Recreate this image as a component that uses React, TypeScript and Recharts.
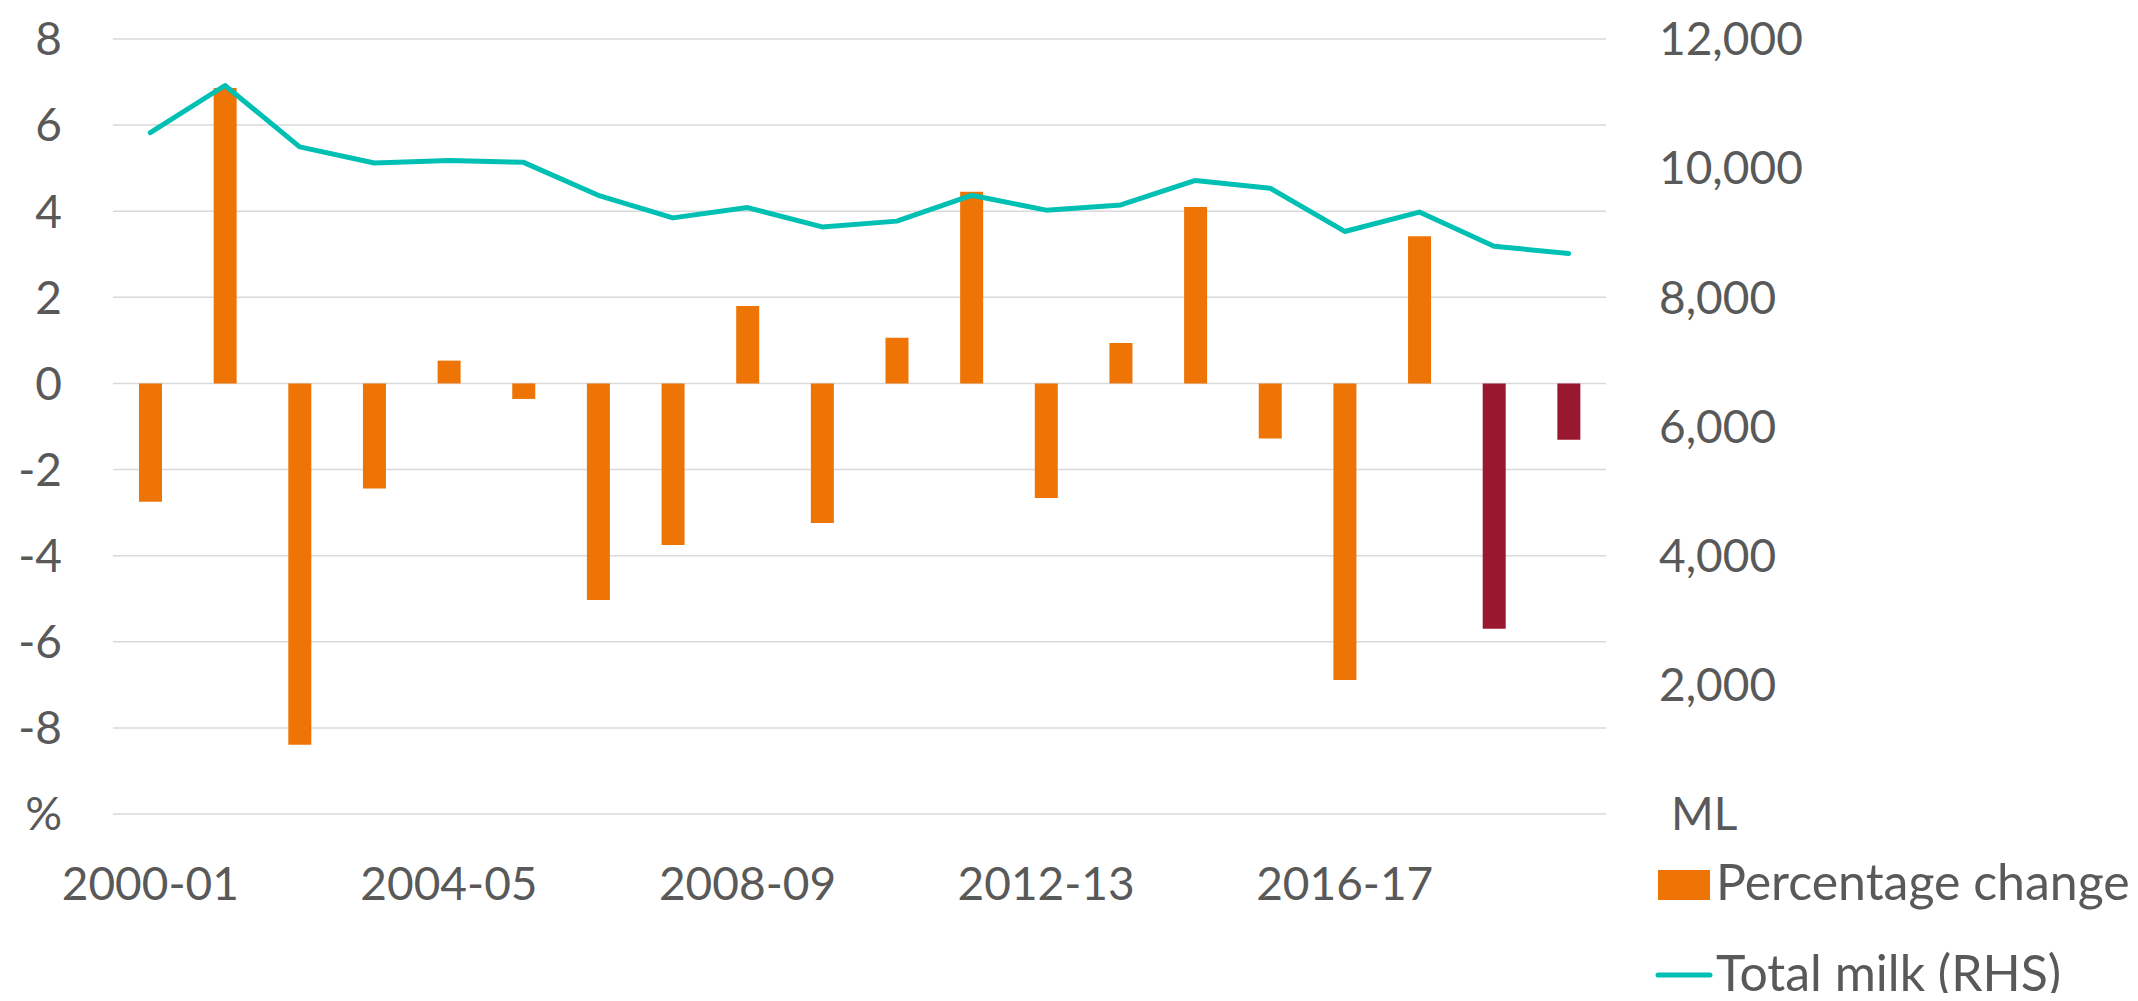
import React from 'react';
import { ComposedChart, Bar, Line, XAxis, YAxis, CartesianGrid, Legend, Cell } from 'recharts';

const categories = ['2000-01','2001-02','2002-03','2003-04','2004-05','2005-06','2006-07','2007-08','2008-09','2009-10','2010-11','2011-12','2012-13','2013-14','2014-15','2015-16','2016-17','2017-18','2018-19','2019-20'];
const percentageChange = [-2.75, 6.86, -8.39, -2.44, 0.53, -0.36, -5.03, -3.75, 1.80, -3.24, 1.06, 4.45, -2.66, 0.94, 4.10, -1.28, -6.89, 3.42, -5.70, -1.31];
const totalMilk = [10550, 11280, 10330, 10080, 10120, 10090, 9580, 9230, 9390, 9090, 9180, 9580, 9350, 9430, 9810, 9690, 9020, 9320, 8790, 8680];
const highlighted = ['2018-19', '2019-20'];
const leftTicks = [-10, -8, -6, -4, -2, 0, 2, 4, 6, 8];
const rightTicks = [0, 2000, 4000, 6000, 8000, 10000, 12000];

const ORANGE = '#EE7405';
const DARKRED = '#991830';
const TEAL = '#00BFB3';
const TEXT = '#595959';
const FONT = 'Lato, sans-serif';

const data = categories.map((c, i) => ({ year: c, pct: percentageChange[i], milk: totalMilk[i] }));

const LeftTick = (props: any) => {
  const { x, y, payload } = props;
  const label = payload.value === -10 ? '%' : String(payload.value);
  return (
    <text x={x} y={y} dy="0.355em" textAnchor="end" fill={TEXT} fontFamily={FONT} fontSize={46}>{label}</text>
  );
};

const RightTick = (props: any) => {
  const { x, y, payload } = props;
  const v = payload.value;
  const label = v === 0 ? 'ML' : v.toLocaleString('en-US');
  return (
    <text x={x + (v === 0 ? 12 : 0)} y={y} dy="0.355em" textAnchor="start" fill={TEXT} fontFamily={FONT} fontSize={46}>{label}</text>
  );
};

const LegendContent = () => (
  <svg width={480} height={135} style={{ overflow: 'visible', display: 'block' }}>
    <rect x={2} y={12} width={52} height={30} fill={ORANGE} />
    <text x={60} y={42} fill={TEXT} fontFamily={FONT} fontSize={50}>Percentage change</text>
    <line x1={2} x2={54} y1={117} y2={117} stroke={TEAL} strokeWidth={5} strokeLinecap="round" />
    <text x={60} y={133} fill={TEXT} fontFamily={FONT} fontSize={50}>Total milk (RHS)</text>
  </svg>
);

export default function App() {
  return (
    <ComposedChart
      width={2122}
      height={985}
      data={data}
      margin={{ top: 31, right: 0, bottom: 119, left: 0 }}
      style={{ background: '#fff' }}
    >
      <CartesianGrid yAxisId="left" vertical={false} stroke="#D9D9D9" strokeWidth={1.5} />
      <XAxis
        dataKey="year"
        interval={3}
        axisLine={false}
        tickLine={false}
        tickSize={0}
        tickMargin={53}
        height={60}
        tick={{ fill: TEXT, fontFamily: FONT, fontSize: 46 }}
      />
      <YAxis
        yAxisId="left"
        orientation="left"
        domain={[-10, 8]}
        ticks={leftTicks}
        width={105}
        axisLine={false}
        tickLine={false}
        tickSize={0}
        tickMargin={51}
        tick={<LeftTick />}
        interval={0}
      />
      <YAxis
        yAxisId="right"
        orientation="right"
        domain={[0, 12000]}
        ticks={rightTicks}
        width={524}
        axisLine={false}
        tickLine={false}
        tickSize={0}
        tickMargin={53}
        tick={<RightTick />}
        interval={0}
      />
      <Legend
        layout="horizontal"
        verticalAlign="middle"
        align="center"
        content={<LegendContent />}
        wrapperStyle={{ position: 'absolute', left: 1648, top: 850, width: 480, height: 135 }}
      />
      <Bar yAxisId="left" dataKey="pct" name="Percentage change" barSize={23} isAnimationActive={false}>
        {data.map((d) => (
          <Cell key={d.year} fill={highlighted.includes(d.year) ? DARKRED : ORANGE} />
        ))}
      </Bar>
      <Line
        yAxisId="right"
        type="linear"
        dataKey="milk"
        name="Total milk (RHS)"
        stroke={TEAL}
        strokeWidth={5}
        strokeLinecap="round"
        strokeLinejoin="round"
        dot={false}
        activeDot={false}
        isAnimationActive={false}
      />
    </ComposedChart>
  );
}
